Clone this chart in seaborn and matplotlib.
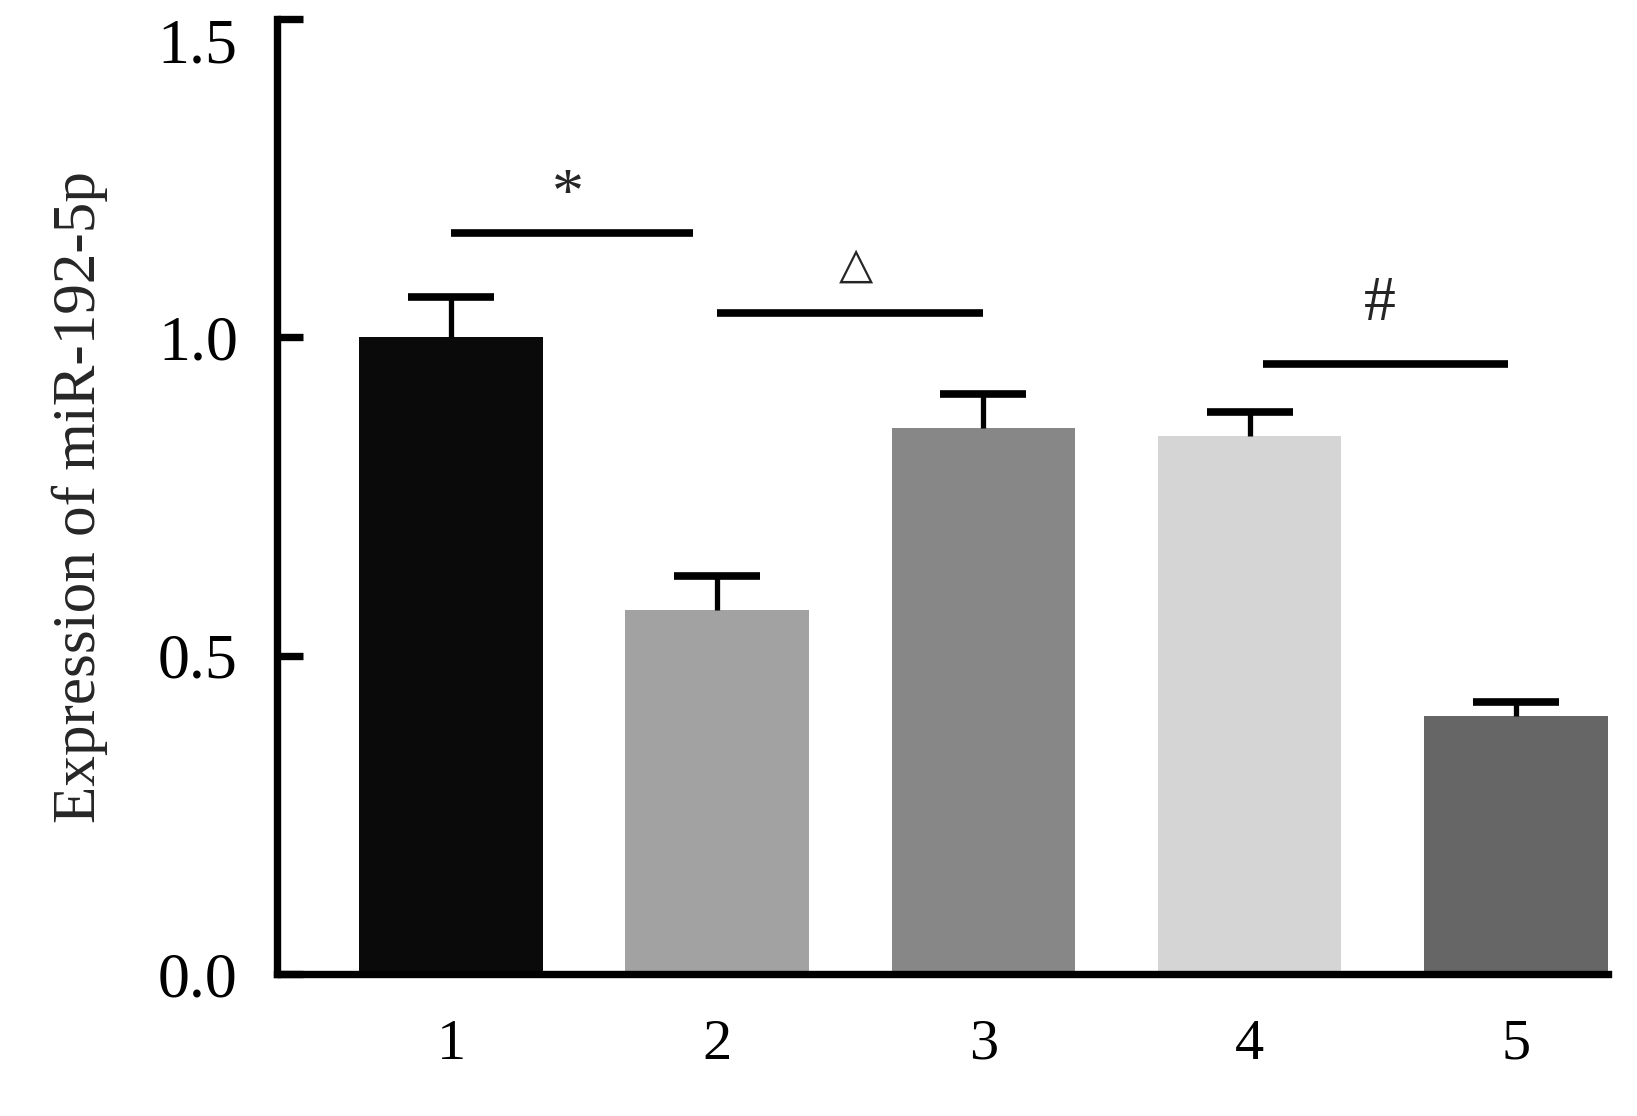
import matplotlib
matplotlib.use("Agg")
import matplotlib.pyplot as plt
import seaborn as sns
import pandas as pd

# ---- data ----
groups = ["1", "2", "3", "4", "5"]
values = [1.00, 0.572, 0.857, 0.845, 0.405]
errors = [0.064, 0.053, 0.054, 0.038, 0.023]
bar_colors = ["#0a0a0a", "#a2a2a2", "#878787", "#d5d5d5", "#666666"]
y_ticks = [0.0, 0.5, 1.0, 1.5]
y_tick_labels = ["0.0", "0.5", "1.0", "1.5"]
y_label = "Expression of miR-192-5p"

# significance annotations
sig_x_start = [0.0, 1.0, 3.05]
sig_x_end = [0.91, 2.0, 3.97]
sig_y = [1.164, 1.039, 0.959]
sig_symbols = ["*", "\u25b3", "#"]
sig_sym_x = [0.44, 1.52, 3.49]
sig_sym_y = [1.175, 1.08, 1.005]

sns.set_style("ticks")
plt.rcParams["font.family"] = ["Liberation Serif", "DejaVu Serif", "DejaVu Sans"]

df = pd.DataFrame({"group": groups, "value": values})

fig = plt.figure(figsize=(16.37, 11.16), dpi=100)
ax = fig.add_axes([0.169, 0.127, 0.813, 0.856])

sns.barplot(data=df, x="group", y="value", hue="group", palette=bar_colors,
            width=0.69, legend=False, ax=ax, saturation=1, edgecolor="none")

xpos = list(range(len(groups)))
eb = ax.errorbar(xpos, values, yerr=[[0] * len(errors), errors], fmt="none",
                 ecolor="black", elinewidth=3.8, capsize=31, capthick=5.5, zorder=3)
# keep only the upper caps
eb[1][0].set_visible(False)

for xs, xe, yy in zip(sig_x_start, sig_x_end, sig_y):
    ax.plot([xs, xe], [yy, yy], color="black", lw=5.5, solid_capstyle="butt")
for s, sx, sy in zip(sig_symbols, sig_sym_x, sig_sym_y):
    if s == "\u25b3":
        ax.text(sx, sy, s, ha="center", va="bottom", fontsize=32,
                family=["DejaVu Sans"])
    else:
        ax.text(sx, sy, s, ha="center", va="bottom", fontsize=46)

ax.set_xlim(-0.655, 4.345)
ax.set_ylim(0, 1.5)
ax.set_yticks(y_ticks)
ax.set_yticklabels(y_tick_labels)
ax.set_xlabel("")
ax.set_ylabel(y_label, fontsize=44, labelpad=36)

for side in ["top", "right"]:
    ax.spines[side].set_visible(False)
for side in ["left", "bottom"]:
    ax.spines[side].set_linewidth(5.3)
    ax.spines[side].set_color("black")

ax.tick_params(axis="y", direction="in", length=19, width=5.3, pad=28,
               labelsize=46, colors="black")
ax.tick_params(axis="x", length=0, pad=32, labelsize=42, colors="black")
# top label sits just below its tick, as in the reference
ax.get_yticklabels()[-1].set_verticalalignment("top")

fig.savefig("out.png", dpi=100, facecolor="white")
